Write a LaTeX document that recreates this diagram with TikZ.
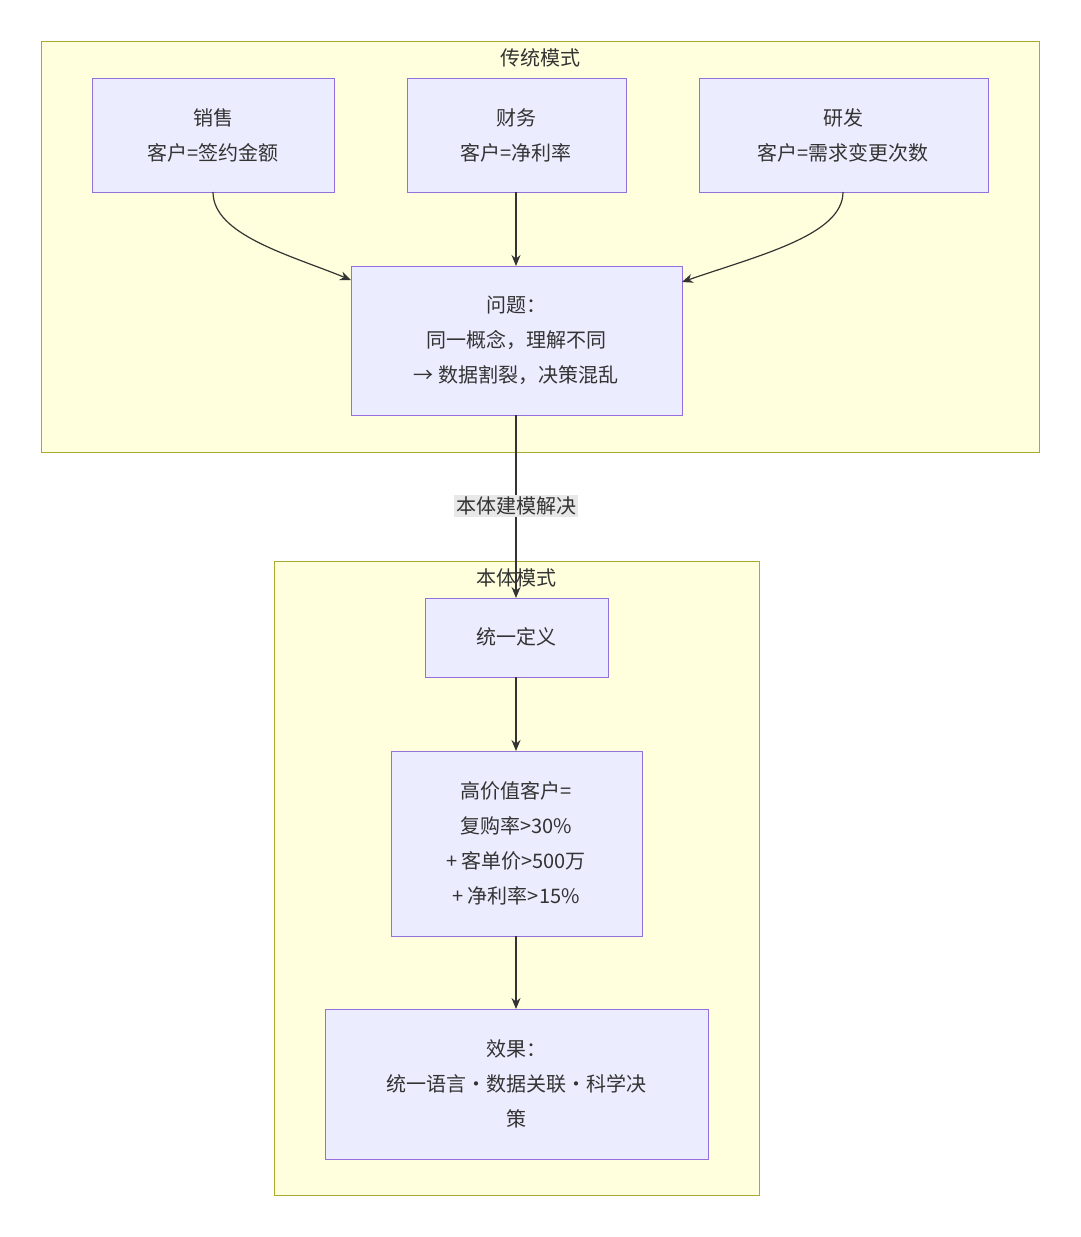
\documentclass[tikz,border=0pt]{standalone}
\usepackage{fontspec}
\setmainfont{Noto Sans CJK SC}
\usetikzlibrary{arrows.meta}
\definecolor{cl}{HTML}{FFFFDE}
\definecolor{cls}{HTML}{AAAA33}
\definecolor{nf}{HTML}{ECECFF}
\definecolor{ns}{HTML}{9370DB}
\definecolor{ed}{HTML}{333333}
\begin{document}
\begin{tikzpicture}[x=1pt,y=-1pt,
  clus/.style={draw=cls,fill=cl,line width=1pt},
  nd/.style={draw=ns,fill=nf,line width=1pt},
  txt/.style={font=\fontsize{20}{35}\selectfont,align=center,text=ed},
  ar/.style={draw=ed,line width=1.2pt,-{Stealth[length=11pt,width=9pt]}}]
\useasboundingbox (0,0) rectangle (1080,1237);
\fill[white] (0,0) rectangle (1080,1237);
\draw[clus] (41,41) rectangle (1039,452);
\node[txt] (t1) at (540,58) {传统模式};
\draw[clus] (274,561) rectangle (759,1195);
\node[txt] (t2) at (516,578) {本体模式};
\draw[nd] (92,78) rectangle (334,192);
\node[txt] (s) at (213,135) {销售\\客户=签约金额};
\coordinate (sb) at (213,192);
\draw[nd] (407,78) rectangle (626,192);
\node[txt] (f) at (516,135) {财务\\客户=净利率};
\coordinate (fb) at (516,192);
\draw[nd] (699,78) rectangle (988,192);
\node[txt] (r) at (843,135) {研发\\客户=需求变更次数};
\coordinate (rb) at (843,192);
\draw[nd] (351,266) rectangle (682,415);
\node[txt] (p) at (516,340) {问题：\\同一概念，理解不同\\→ 数据割裂，决策混乱};
\coordinate (pl) at (351,280); \coordinate (pr) at (682,282);
\coordinate (pt) at (516,266); \coordinate (pb) at (516,415);
\draw[nd] (425,598) rectangle (608,677);
\node[txt] (u) at (516,637) {统一定义};
\coordinate (ut) at (516,598); \coordinate (ub) at (516,677);
\draw[nd] (391,751) rectangle (642,936);
\node[txt] (h) at (516,843) {高价值客户=\\复购率>30\%\\+ 客单价>500万\\+ 净利率>15\%};
\coordinate (ht) at (516,751); \coordinate (hb) at (516,936);
\draw[nd] (325,1009) rectangle (708,1159);
\node[txt] (e) at (516,1084) {效果：\\统一语言·数据关联·科学决\\策};
\coordinate (et) at (516,1009);
\draw[ar] (sb) .. controls (213,235) and (290,255) .. (pl);
\draw[ar] (fb) -- (pt);
\draw[ar] (rb) .. controls (843,235) and (760,255) .. (pr);
\draw[ar] (pb) -- (ut);
\node[txt,fill=black!9,inner sep=2pt] (lab) at (516,506) {本体建模解决};
\draw[ar] (ub) -- (ht);
\draw[ar] (hb) -- (et);
\end{tikzpicture}
\end{document}
